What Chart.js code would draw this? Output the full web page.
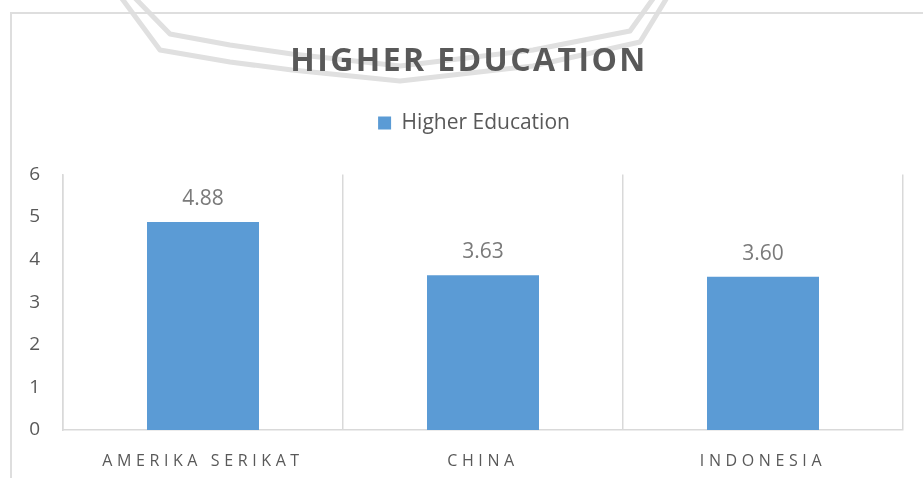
<!DOCTYPE html>
<html>
<head>
<meta charset="utf-8">
<title>Higher Education</title>
<script src="https://cdn.jsdelivr.net/npm/chart.js@4"></script>
<style>
  html, body { margin: 0; padding: 0; background: #fff; overflow: hidden; }
  body { width: 923px; height: 478px; position: relative; }
  #mark { position: absolute; left: 0; top: 0; }
  #frame {
    position: absolute; left: 10px; top: 12px; width: 940px; height: 480px;
    border-top: 2px solid #dedede; border-left: 2px solid #dedede;
  }
  #box { position: absolute; left: 11px; top: 13px; width: 922px; height: 465px; }
</style>
</head>
<body>
<svg id="mark" width="923" height="120" fill="none" stroke="#e0e0e0" stroke-width="5" stroke-linejoin="round">
  <polyline points="133,-4 170,34 230,45 292,54 400,66 533,50 630,31 655,-4"/>
  <polyline points="120,-4 160,50 230,62 292,70 400,81 533,66 640,42 668,-4"/>
</svg>
<div id="frame"></div>
<div id="box"><canvas id="eduChart"></canvas></div>
<script>
'use strict';

const categories = ['AMERIKA SERIKAT', 'CHINA', 'INDONESIA'];
const values = [4.88, 3.63, 3.60];
const yTicks = [0, 1, 2, 3, 4, 5, 6];

const FONT = '"Open Sans", "DejaVu Sans", sans-serif';
const TEXT = '#595959';
const LINE = '#d9d9d9';
const BAR = '#5b9bd5';

// letterSpacing / small x nudge for one box's drawing only
function tweak(target, method, spacing, dx) {
	if (!target || target['_tweaked_' + method]) return;
	const orig = target[method];
	target[method] = function (...args) {
		const ctx = this.ctx;
		ctx.save();
		ctx.letterSpacing = spacing;
		ctx.translate(dx, 0);
		orig.apply(this, args);
		ctx.restore();
	};
	target['_tweaked_' + method] = true;
}

const spacedText = {
	id: 'spacedText',
	beforeLayout(chart) {
		// extra room between the legend and the plot
		const lg = chart.legend;
		if (lg && !lg._padded) {
			const fit = lg.fit;
			lg.fit = function () {
				fit.call(this);
				this.height += 31;
			};
			lg._padded = true;
		}
	},
	beforeDraw(chart) {
		tweak(chart.titleBlock, 'draw', '2.4px', 3);
		tweak(chart.legend, 'draw', '0px', 8);
		tweak(chart.scales.x, 'drawLabels', '4.6px', 0);
	},
};

// value above each bar
const valueLabels = {
	id: 'valueLabels',
	afterDatasetsDraw(chart) {
		const ctx = chart.ctx;
		const meta = chart.getDatasetMeta(0);
		ctx.save();
		ctx.font = '21px ' + FONT;
		ctx.fillStyle = '#7a7a7a';
		ctx.textAlign = 'center';
		ctx.textBaseline = 'alphabetic';
		meta.data.forEach((bar, i) => {
			ctx.fillText(values[i].toFixed(2), bar.x, bar.y - 17);
		});
		ctx.restore();
	},
};

const createEduChart = function () {
	const ctx = document.getElementById('eduChart');

	const data = {
		labels: categories,
		datasets: [
			{
				label: 'Higher Education',
				data: values,
				backgroundColor: BAR,
				borderWidth: 0,
				categoryPercentage: 1,
				barPercentage: 0.4,
			},
		],
	};

	const options = {
		responsive: true,
		maintainAspectRatio: false,
		animation: false,
		layout: {
			padding: { top: 0, left: 18, right: 30, bottom: 8 },
		},
		scales: {
			x: {
				afterFit: (scale) => {
					scale.height = 40;
					scale.paddingLeft = 0;
					scale.paddingRight = 0;
				},
				grid: {
					color: LINE,
					lineWidth: 1.5,
					drawTicks: false,
				},
				border: {
					color: LINE,
					width: 1.5,
				},
				ticks: {
					color: TEXT,
					padding: 22,
					font: { family: FONT, size: 16 },
				},
			},
			y: {
				min: 0,
				max: 6,
				afterBuildTicks: (scale) => {
					scale.ticks = yTicks.map((v) => ({ value: v }));
				},
				afterFit: (scale) => {
					scale.width = 34;
				},
				grid: {
					display: false,
					drawTicks: false,
				},
				border: {
					color: LINE,
					width: 1.5,
				},
				ticks: {
					color: TEXT,
					padding: 23,
					font: { family: FONT, size: 19 },
				},
			},
		},
		plugins: {
			title: {
				display: true,
				text: 'HIGHER EDUCATION',
				color: TEXT,
				font: { family: FONT, size: 32, weight: 'bold', lineHeight: 1.2 },
				padding: { top: 30, bottom: -11 },
			},
			legend: {
				display: true,
				position: 'top',
				labels: {
					color: TEXT,
					boxWidth: 13,
					boxHeight: 13,
					padding: 42,
					font: { family: FONT, size: 21 },
				},
			},
			tooltip: { enabled: false },
		},
	};

	new Chart(ctx, {
		type: 'bar',
		data: data,
		options: options,
		plugins: [spacedText, valueLabels],
	});
};

document.addEventListener('DOMContentLoaded', createEduChart);
</script>
</body>
</html>
